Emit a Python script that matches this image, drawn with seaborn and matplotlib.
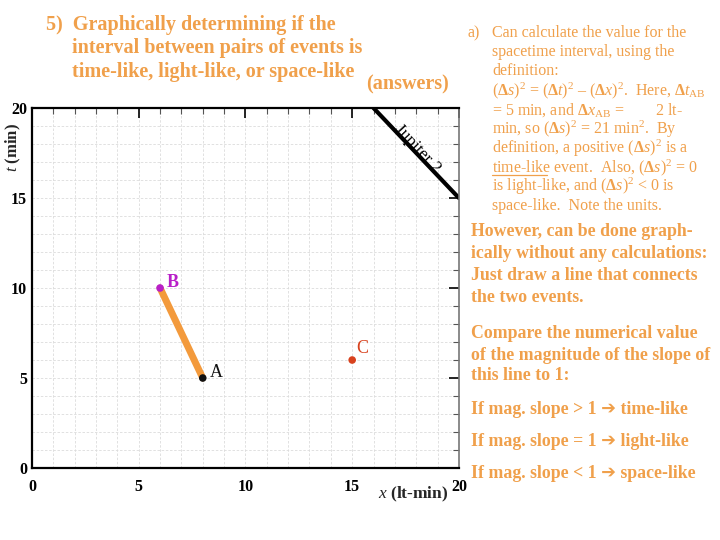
import seaborn as sns
import matplotlib.pyplot as plt
import matplotlib.lines as mlines
from matplotlib.ticker import MultipleLocator
import pandas as pd

# events on the spacetime diagram
event_names = ['A', 'B', 'C']
event_x = [8, 6, 15]
event_t = [5, 10, 6]
event_colors = ['#111111', '#B81FC8', '#D8421E']

# world line of Jupiter 2
jupiter_x = [16, 20]
jupiter_t = [20, 15]

orange = '#F0A04B'

sns.set_theme(style='white')
plt.rcParams['font.family'] = ['Liberation Serif', 'DejaVu Sans']
plt.rcParams['mathtext.fontset'] = 'custom'
plt.rcParams['mathtext.rm'] = 'Liberation Serif'
plt.rcParams['mathtext.it'] = 'Liberation Serif:italic'
plt.rcParams['mathtext.bf'] = 'Liberation Serif:bold'

fig = plt.figure(figsize=(7.2, 5.4), dpi=100)
ax = fig.add_axes([0.0444, 0.1333, 0.593, 0.6667])

events = pd.DataFrame({'name': event_names, 'x': event_x, 't': event_t})
jup = pd.DataFrame({'x': jupiter_x, 't': jupiter_t})
ab = events[events['name'].isin(['A', 'B'])]

sns.lineplot(data=jup, x='x', y='t', ax=ax, color='black', lw=3, sort=False)
sns.lineplot(data=ab, x='x', y='t', ax=ax, color='#F39A3C', lw=5, sort=False,
             solid_capstyle='round')
sns.scatterplot(data=events, x='x', y='t', hue='name', palette=event_colors,
                ax=ax, s=30, edgecolor='none', legend=False, zorder=5)

ax.text(8.35, 5.05, 'A', fontsize=13, color=event_colors[0])
ax.text(6.3, 10.05, 'B', fontsize=13, color=event_colors[1], fontweight='bold')
ax.text(15.2, 6.4, 'C', fontsize=13, color=event_colors[2])
ax.text(18.05, 17.75, 'Jupiter 2', fontsize=12.5, rotation=-47,
        ha='center', va='center', color='black')

ax.set_xlim(0, 20)
ax.set_ylim(0, 20)
ax.xaxis.set_major_locator(MultipleLocator(5))
ax.yaxis.set_major_locator(MultipleLocator(5))
ax.xaxis.set_minor_locator(MultipleLocator(1))
ax.yaxis.set_minor_locator(MultipleLocator(1))
ax.grid(which='both', color='#DCDCDC', ls=(0, (3, 2)), lw=0.6)
ax.tick_params(which='major', direction='in', length=7, width=1.2,
               top=True, right=True, labelsize=11.5, colors='black')
ax.tick_params(axis='x', which='major', pad=8)
ax.tick_params(which='minor', direction='in', length=4, width=0.8,
               top=True, right=True, color='#555555')
for lab in ax.get_xticklabels() + ax.get_yticklabels():
    lab.set_fontweight('bold')
for side in ['left', 'bottom', 'top']:
    ax.spines[side].set_color('black')
    ax.spines[side].set_linewidth(1.6)
ax.spines['right'].set_color('#777777')
ax.spines['right'].set_linewidth(1.2)
ax.set_xlabel('')
ax.set_ylabel('')

fig.text(0.018, 1 - 148 / 540, r'$\mathit{t}$ $\mathbf{(min)}$', rotation=90,
         fontsize=12, ha='center', va='center')
fig.text(0.574, 1 - 494 / 540, r'$\mathbf{\mathit{x}}$ (lt-min)', fontsize=12.5,
         fontweight='bold', ha='center', va='center')

# title
title_lines = ['5)  Graphically determining if the',
               'interval between pairs of events is',
               'time-like, light-like, or space-like']
title_x = [0.064, 0.100, 0.100]
for i, line in enumerate(title_lines):
    fig.text(title_x[i], 1 - (25 + 23.5 * i) / 540, line, fontsize=14.5,
             fontweight='bold', color=orange, va='center')
fig.text(0.508, 1 - 84 / 540, '(answers)', fontsize=14.5, fontweight='bold',
         color=orange, va='center')

# part a) text
a_lines = ['Can calculate the value for the',
           'spacetime interval, using the',
           'definition:',
           r'($\mathbf{\Delta}\mathit{s}$)$^2$ = ($\mathbf{\Delta}\mathit{t}$)$^2$ – ($\mathbf{\Delta}\mathit{x}$)$^2$.  Here, $\mathbf{\Delta}\mathit{t}_{\rm AB}$',
           r'= 5 min, and $\mathbf{\Delta}\mathit{x}_{\rm AB}$ =        2 lt-',
           r'min, so ($\mathbf{\Delta}\mathit{s}$)$^2$ = 21 min$^2$.  By',
           r'definition, a positive ($\mathbf{\Delta}\mathit{s}$)$^2$ is a',
           r'time-like event.  Also, ($\mathbf{\Delta}\mathit{s}$)$^2$ = 0',
           r'is light-like, and ($\mathbf{\Delta}\mathit{s}$)$^2$ < 0 is',
           'space-like.  Note the units.']
fig.text(0.649, 1 - 33 / 540, 'a)', fontsize=11.5, color=orange, va='center')
for i, line in enumerate(a_lines):
    fig.text(0.684, 1 - (33 + 19.2 * i) / 540, line, fontsize=11.5,
             color=orange, va='center')
# underline of "time-like"
fig.add_artist(mlines.Line2D([0.684, 0.760], [1 - 175 / 540] * 2,
                             color=orange, lw=0.9))

# graphical method text
b_lines = [('However, can be done graph-', 232),
           ('ically without any calculations:', 254),
           ('Just draw a line that connects', 275),
           ('the two events.', 297),
           ('Compare the numerical value', 333),
           ('of the magnitude of the slope of', 355),
           ('this line to 1:', 376),
           ('If mag. slope > 1 ➔ time-like', 409),
           ('If mag. slope = 1 ➔ light-like', 441),
           ('If mag. slope < 1 ➔ space-like', 474)]
for line, ypix in b_lines:
    fig.text(0.654, 1 - ypix / 540, line, fontsize=12.8, fontweight='bold',
             color=orange, va='center')

fig.savefig('out.png', dpi=100)
